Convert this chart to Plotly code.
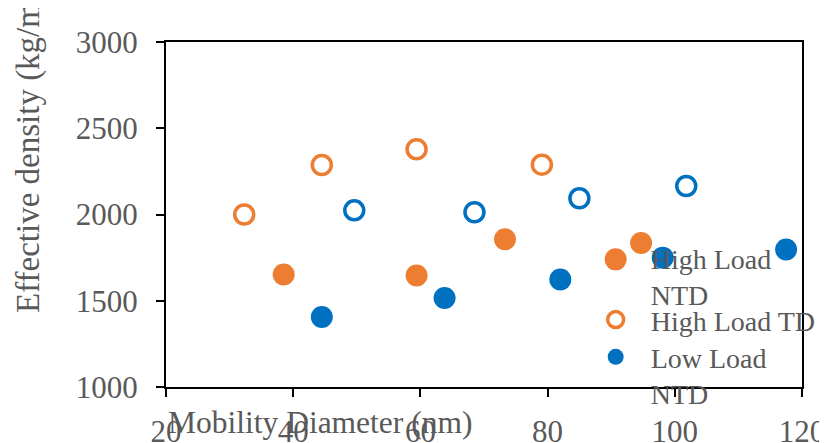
import plotly.graph_objects as go

# Data
hl_ntd_x = [38.5, 59.4, 73.3, 90.7, 94.7]
hl_ntd_y = [1652, 1646, 1856, 1740, 1835]

hl_td_x = [32.3, 44.5, 59.4, 79.1]
hl_td_y = [2000, 2287, 2378, 2289]

ll_ntd_x = [44.5, 63.8, 82.0, 98.1, 117.5]
ll_ntd_y = [1406, 1516, 1623, 1750, 1797]

ll_td_x = [49.6, 68.5, 85.0, 101.8]
ll_td_y = [2024, 2013, 2094, 2165]

x_ticks = [20, 40, 60, 80, 100, 120]
y_ticks = [1000, 1500, 2000, 2500, 3000]

ORANGE = "#ED7D31"
BLUE = "#0070C0"
GRAY = "#595959"
FONT = "Liberation Serif"

fig = go.Figure()
fig.add_trace(go.Scatter(x=hl_ntd_x, y=hl_ntd_y, mode="markers", name="High Load<br>NTD",
                         marker=dict(color=ORANGE, size=22, symbol="circle"), legend="legend"))
fig.add_trace(go.Scatter(x=hl_td_x, y=hl_td_y, mode="markers", name="High Load TD",
                         marker=dict(color=ORANGE, size=19, symbol="circle-open", line=dict(width=3.5, color=ORANGE)),
                         legend="legend2"))
fig.add_trace(go.Scatter(x=ll_ntd_x, y=ll_ntd_y, mode="markers", name="Low Load<br>NTD",
                         marker=dict(color=BLUE, size=22, symbol="circle"), legend="legend3"))
fig.add_trace(go.Scatter(x=ll_td_x, y=ll_td_y, mode="markers", name="Low Load TD",
                         marker=dict(color=BLUE, size=19, symbol="circle-open", line=dict(width=3.5, color=BLUE)),
                         showlegend=False))

legend_common = dict(xanchor="left", yanchor="top", bgcolor="rgba(0,0,0,0)", valign="top",
                     font=dict(family=FONT, size=28, color=GRAY), itemsizing="trace", itemwidth=60)
lx = 0.652
fig.update_layout(
    legend=dict(x=lx, y=0.446, **legend_common),
    legend2=dict(x=lx, y=0.267, **legend_common),
    legend3=dict(x=lx, y=0.159, **legend_common),
)

axis_common = dict(showline=True, linecolor="black", linewidth=2, mirror=True, ticks="outside",
                   ticklen=8, tickwidth=2, tickcolor="black", showgrid=False, zeroline=False,
                   tickfont=dict(family=FONT, size=31, color=GRAY))
fig.update_xaxes(range=[20, 120], tickvals=x_ticks, ticktext=[str(v) for v in x_ticks],
                 ticklabelstandoff=8, **axis_common)
fig.update_yaxes(range=[1000, 3000], tickvals=y_ticks, ticktext=[str(v) for v in y_ticks],
                 ticklabelstandoff=12, **axis_common)

fig.add_annotation(text="Mobility Diameter (nm)", xref="paper", yref="paper", x=0.0, y=-0.104,
                   xanchor="left", yanchor="middle", showarrow=False,
                   font=dict(family=FONT, size=31.5, color=GRAY))
fig.add_annotation(text="Effective density (kg/m<sup>3</sup>)", xref="paper", yref="paper", x=-0.2201, y=0.2087,
                   xanchor="center", yanchor="bottom", textangle=-90, showarrow=False,
                   font=dict(family=FONT, size=33, color=GRAY))

# The page body has an 8px margin, so the figure is sized to end at the window edge
fig.update_layout(
    width=819, height=435,
    margin=dict(l=158, r=25, t=34, b=56, autoexpand=False),
    plot_bgcolor="white", paper_bgcolor="white",
    font=dict(family=FONT, color=GRAY),
)

fig.write_html("out.html")
